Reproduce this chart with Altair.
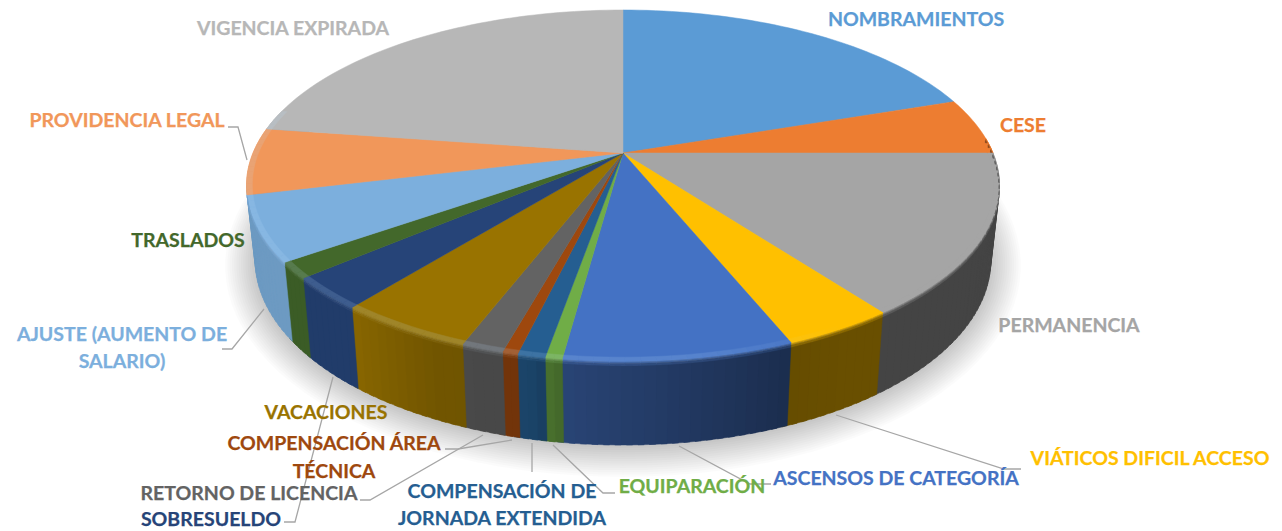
import altair as alt
import numpy as np
import pandas as pd

categories = ["NOMBRAMIENTOS", "CESE", "PERMANENCIA", "VIÁTICOS DIFICIL ACCESO", "ASCENSOS DE CATEGORÍA",
              "EQUIPARACIÓN", "COMPENSACIÓN DE JORNADA EXTENDIDA", "COMPENSACIÓN ÁREA TÉCNICA",
              "RETORNO DE LICENCIA", "VACACIONES", "SOBRESUELDO", "TRASLADOS",
              "AJUSTE (AUMENTO DE SALARIO)", "PROVIDENCIA LEGAL", "VIGENCIA EXPIRADA"]
values = [71.3, 18.7, 53.3, 14.6, 29.8, 2.2, 3.6, 2.0, 5.5, 17.8, 10.7, 5.3, 21.5, 22.1, 81.6]
colors = ["#5B9BD5", "#ED7D31", "#A5A5A5", "#FFC000", "#4472C4", "#70AD47", "#255E91", "#9E480E",
          "#636363", "#997300", "#264478", "#43682B", "#7CAFDD", "#F1975A", "#B7B7B7"]

label_lines = [["NOMBRAMIENTOS"], ["CESE"], ["PERMANENCIA"], ["VIÁTICOS DIFICIL ACCESO"], ["ASCENSOS DE CATEGORÍA"],
               ["EQUIPARACIÓN"], ["COMPENSACIÓN DE", "JORNADA EXTENDIDA"], ["COMPENSACIÓN ÁREA", "TÉCNICA"],
               ["RETORNO DE LICENCIA"], ["VACACIONES"], ["SOBRESUELDO"], ["TRASLADOS"],
               ["AJUSTE (AUMENTO DE", "SALARIO)"], ["PROVIDENCIA LEGAL"], ["VIGENCIA EXPIRADA"]]
label_anchor = [(916, 20), (1023, 126), (1069, 326), (1150, 459), (896, 479), (692, 487), (502, 492), (334, 444),
                (249, 494), (326, 413), (211, 520), (188, 241), (122, 335), (127, 121), (293, 29)]
line_gap = [27, 27, 27, 27, 27, 27, 27, 28, 27, 27, 27, 27, 27, 27, 27]

leaders = [
    [(836, 415), (1004, 469), (1021, 469)],
    [(679, 446), (750, 484), (771, 484)],
    [(553, 445), (603, 493), (615, 493)],
    [(532, 443), (532, 472)],
    [(512, 440), (458, 449), (445, 449)],
    [(483, 435), (370, 500), (360, 500)],
    [(333, 377), (295, 522), (284, 522)],
    [(264, 309), (232, 349), (222, 349)],
    [(247, 160), (238, 127), (228, 127)],
]

# projection of the tilted disc
CX, CY, R, K, D = 623, 153, 370, 169.5, 5.4


def P(theta, r=1.0, h=0.0):
    t = np.radians(theta)
    u, v = r * np.sin(t), -r * np.cos(t)
    s = D / (D - v)
    x = CX + R * u * s
    y = CY + K * v * s
    xb = CX + (x - CX) * 0.977
    yb = y + 72 + 12 * v
    return x + (xb - x) * h, y + (yb - y) * h


def rgb(c):
    return np.array([int(c[i:i + 2], 16) for i in (1, 3, 5)], float)


def hx(a):
    return "#%02x%02x%02x" % tuple(int(round(min(255, max(0, q)))) for q in a)


def wall_factor(theta):
    return np.interp(theta, [90, 150, 158, 188, 192, 205, 218, 280], [.41, .41, .40, .6, .72, .74, .88, .88])


def highlight(theta):
    return np.interp(theta, [150, 172], [0, .16])


rows = []
pid = 0


def add(points, color):
    global pid
    pid += 1
    for i, (x, y) in enumerate(points):
        rows.append({"id": pid, "seq": i, "x": x, "y": y, "c": color})


edges = np.concatenate([[0], np.cumsum(values)])
edges = edges / edges[-1] * 360
LEFT_SLICE = 12  # last slice whose side is visible

# walls
for i, col in enumerate(colors):
    if i > LEFT_SLICE:
        continue
    a0, a1 = edges[i], edges[i + 1]
    lo, hi = max(a0, 70), (292 if i == LEFT_SLICE else a1)
    if lo >= hi:
        continue
    n = max(1, int(np.ceil((hi - lo) / 1.5)))
    th = np.linspace(lo, hi, n + 1)
    base = rgb(col)
    for p, q in zip(th[:-1], th[1:]):
        m = (p + q) / 2
        wall = base * wall_factor(m)
        add([P(p, 1, .05), P(q + .8, 1, .05), P(q + .8, 1, 1), P(p, 1, 1)], hx(wall))

# top surface
for i, col in enumerate(colors):
    a0, a1 = edges[i], edges[i + 1]
    n = max(2, int(np.ceil((a1 - a0) / 1.5)))
    add([P(0, 0)] + [P(a) for a in np.linspace(a0, a1, n + 1)], col)

# rim bands
for i, col in enumerate(colors):
    a0, a1 = edges[i], edges[i + 1]
    lo, hi = max(a0, 85), min(a1, 285)
    if lo >= hi:
        continue
    n = max(1, int(np.ceil((hi - lo) / 2)))
    th = np.linspace(lo, hi, n + 1)
    base = rgb(col)
    for p, q in zip(th[:-1], th[1:]):
        m = (p + q) / 2
        wall = base * wall_factor(m)
        hl = base + (np.array([190, 225, 255.]) - base) * highlight(m)
        add([P(p, .985), P(q, .985), P(q, 1), P(p, 1)], hx(hl))
        if i > LEFT_SLICE:
            continue
        add([P(p, 1), P(q, 1), P(q, 1, .012), P(p, 1, .012)], hx(hl))
        add([P(p, 1, .012), P(q, 1, .012), P(q, 1, .03), P(p, 1, .03)], hx(hl * .6 + wall * .4))
        add([P(p, 1, .03), P(q, 1, .03), P(q, 1, .055), P(p, 1, .055)], hx(hl * .22 + wall * .78))

df = pd.DataFrame(rows)

# soft shadow under the disc
shadow_rows = []
for j, e in enumerate(np.linspace(1, 30, 14)):
    for k, a in enumerate(np.arange(0, 360, 3)):
        x, y = P(a, 1, 1)
        shadow_rows.append({"id": j, "seq": k,
                            "x": CX + (x - CX) * (1 + e / 367),
                            "y": 232 + (y - 232) * (1 + e / 213) + 2})
sdf = pd.DataFrame(shadow_rows)

leader_rows = [{"id": i, "seq": j, "x": x, "y": y} for i, l in enumerate(leaders) for j, (x, y) in enumerate(l)]
ldf = pd.DataFrame(leader_rows)

label_rows = []
for lines, (ax, ay), col, gap in zip(label_lines, label_anchor, colors, line_gap):
    for n, t in enumerate(lines):
        label_rows.append({"t": t, "x": ax, "y": ay + n * gap, "c": col})
tdf = pd.DataFrame(label_rows)

X = alt.X("x:Q", scale=alt.Scale(domain=[8, 1274]), axis=None)
Y = alt.Y("y:Q", scale=alt.Scale(domain=[531, 8]), axis=None)

shadow = alt.Chart(sdf).mark_line(interpolate="linear-closed", fill="#000000", fillOpacity=0.016,
                                  strokeWidth=0, stroke="transparent").encode(
    x=X, y=Y, detail="id:N", order="seq:Q")

shapes = alt.Chart(df).mark_line(interpolate="linear-closed", strokeWidth=0.5).encode(
    x=X, y=Y, detail="id:N", order="seq:Q",
    fill=alt.Fill("c:N", scale=None, legend=None),
    stroke=alt.Stroke("c:N", scale=None, legend=None))

lead = alt.Chart(ldf).mark_line(color="#A6A6A6", strokeWidth=1.3).encode(
    x=X, y=Y, detail="id:N", order="seq:Q")

text = alt.Chart(tdf).mark_text(font="Lato", fontWeight="bold", fontSize=19.5, align="center",
                                baseline="middle", strokeWidth=0.25).encode(
    x=X, y=Y, text="t:N",
    color=alt.Color("c:N", scale=None, legend=None),
    stroke=alt.Stroke("c:N", scale=None, legend=None))

chart = alt.layer(shadow, shapes, lead, text).properties(
    width=1266, height=523, padding=0, autosize=alt.AutoSizeParams(type="none")
).configure_view(stroke=None)

chart.save("out.html", embed_options={"renderer": "svg", "actions": False})
